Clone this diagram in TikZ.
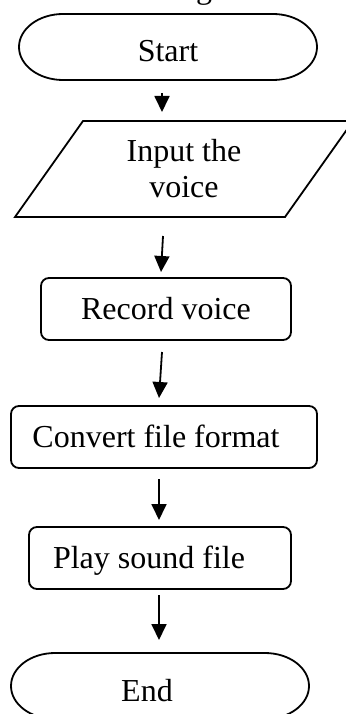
\documentclass[tikz,border=0pt]{standalone}
\usepackage{fontspec}
\setmainfont{Liberation Serif}
\usetikzlibrary{arrows.meta}
\tikzset{
  base/.style={font=\fontsize{32pt}{36pt}\selectfont, inner sep=0pt, outer sep=0pt},
  termbox/.style={base, minimum width=298pt, minimum height=66pt, text height=30pt, text depth=0pt},
  procbox/.style={base, draw, line width=1.8pt, rounded corners=8pt, minimum height=62pt, text height=21pt, text depth=0pt},
  iobox/.style={base, minimum width=270pt, minimum height=96pt, align=center},
  outline/.style={line width=1.8pt},
  arr/.style={line width=1.8pt, -{Triangle[length=16pt,width=15pt]}}
}
\begin{document}
\begin{tikzpicture}[x=1pt,y=-1pt]
\useasboundingbox (0,0) rectangle (345,714);
% clipped title fragment
\node[base, anchor=base] (title) at (204,-1) {g};
% nodes
\node[termbox] (start) at (168,47) {Start};
\node[iobox] (inp) at (184,169) {Input the\\voice};
\node[procbox, minimum width=250pt] (rec) at (166,309) {Record voice};
\node[procbox, minimum width=306pt] (conv) at (164,437) {Convert file format\hspace*{16pt}};
\node[procbox, minimum width=262pt] (play) at (160,558) {Play sound file\hspace*{22pt}};
\node[termbox] (end) at (160,686) {End\hspace*{26pt}};
% terminal outlines
\foreach \n in {start,end}{
  \draw[outline] ([xshift=44pt]\n.north west) -- ([xshift=-44pt]\n.north east)
    arc[start angle=90,end angle=-90,x radius=44pt,y radius=33pt]
    -- ([xshift=44pt]\n.south west)
    arc[start angle=-90,end angle=-270,x radius=44pt,y radius=33pt] -- cycle;
}
% parallelogram outline
\draw[outline] ([xshift=-34pt]inp.south west) -- ([xshift=-34pt]inp.south east)
  -- ([xshift=34pt]inp.north east) -- ([xshift=34pt]inp.north west) -- cycle;
% connectors
\draw[arr] ([xshift=-6pt,yshift=-13pt]start.south) -- ([xshift=-22pt,yshift=9pt]inp.north);
\draw[arr] ([xshift=-21pt,yshift=-19pt]inp.south) -- ([xshift=-5pt,yshift=6pt]rec.north);
\draw[arr] ([xshift=-4pt,yshift=-12pt]rec.south) -- ([xshift=-5pt,yshift=8pt]conv.north);
\draw[arr] ([xshift=-5pt,yshift=-11pt]conv.south) -- ([xshift=-1pt,yshift=7pt]play.north);
\draw[arr] ([xshift=-1pt,yshift=-6pt]play.south) -- ([xshift=-1pt,yshift=13pt]end.north);
\end{tikzpicture}
\end{document}
